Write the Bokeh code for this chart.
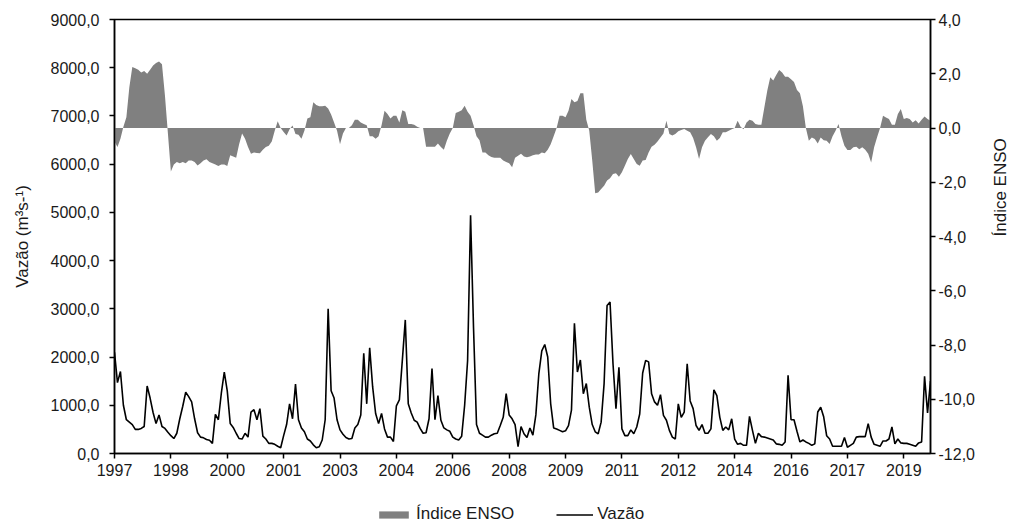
import math
from bokeh.plotting import figure
from bokeh.layouts import column
from bokeh.models import Range1d, LinearAxis, FixedTicker, Legend, LegendItem
from bokeh.embed import file_html
from bokeh.resources import INLINE

# Monthly series, Jan 1997 .. Dec 2019
enso = [
    -0.5, -0.7, -0.4, 0.05, 0.4, 1.5, 2.25, 2.2, 2.15, 2.05,
    2.1, 2.0, 2.15, 2.3, 2.4, 2.45, 2.35, 1.2, -0.2, -1.6,
    -1.35, -1.25, -1.3, -1.25, -1.3, -1.2, -1.2, -1.25, -1.38, -1.3,
    -1.2, -1.15, -1.25, -1.3, -1.35, -1.4, -1.35, -1.35, -1.4, -1.0,
    -1.05, -1.1, -0.6, -0.2, -0.4, -0.7, -0.95, -0.9, -0.92, -0.93,
    -0.8, -0.7, -0.65, -0.5, -0.1, 0.25, 0.0, -0.15, -0.28, -0.05,
    0.09, -0.22, -0.25, -0.4, -0.1, 0.35, 0.4, 0.95, 0.85, 0.8,
    0.8, 0.82, 0.72, 0.5, 0.2, -0.1, -0.6, -0.2, 0.0, 0.0,
    0.1, 0.3, 0.3, 0.2, 0.15, 0.1, -0.3, -0.3, -0.4, -0.3,
    0.1, 0.64, 0.52, 0.35, 0.45, 0.45, 0.2, 0.65, 0.6, 0.15,
    0.15, 0.12, 0.05, 0.0, 0.0, -0.69, -0.69, -0.69, -0.69, -0.57,
    -0.7, -0.8, -0.47, -0.2, 0.0, 0.55, 0.6, 0.65, 0.82, 0.6,
    0.45, 0.1, -0.3, -0.45, -0.9, -0.9, -1.0, -1.07, -1.1, -1.1,
    -1.1, -1.2, -1.25, -1.3, -1.45, -1.1, -1.02, -0.95, -1.05, -1.08,
    -1.05, -1.0, -0.98, -0.98, -0.9, -0.93, -0.8, -0.6, -0.3, 0.0,
    0.45, 0.45, 0.4, 0.64, 1.07, 0.95, 1.0, 1.28, 1.28, 0.3,
    -0.1, -1.2, -2.41, -2.38, -2.25, -2.13, -1.94, -1.85, -1.7, -1.67,
    -1.8, -1.63, -1.39, -1.14, -0.96, -1.14, -1.33, -1.39, -1.2, -1.18,
    -0.9, -0.69, -0.62, -0.5, -0.35, -0.2, 0.27, -0.22, -0.28, -0.22,
    -0.12, -0.07, -0.04, -0.1, -0.16, -0.37, -0.71, -1.14, -0.71, -0.47,
    -0.34, -0.22, -0.3, -0.47, -0.37, -0.16, -0.16, -0.1, -0.05, 0.0,
    0.27, 0.05, -0.05, 0.2, 0.3, 0.27, 0.15, 0.12, 0.12, 0.76,
    1.38, 1.87, 1.75, 1.95, 2.14, 2.05, 1.89, 1.89, 1.8, 1.7,
    1.4, 1.28, 0.8, 0.0, -0.47, -0.35, -0.41, -0.57, -0.35, -0.45,
    -0.47, -0.59, -0.3, -0.1, 0.15, -0.3, -0.65, -0.81, -0.81, -0.71,
    -0.69, -0.78, -0.71, -0.8, -0.95, -1.27, -0.71, -0.34, 0.0, 0.45,
    0.39, 0.33, 0.12, 0.12, 0.52, 0.7, 0.33, 0.37, 0.33, 0.2,
    0.29, 0.17, 0.3, 0.42, 0.33, 0.27,
]

vazao = [
    2100, 1470, 1700, 1000, 700, 650, 600, 500, 500, 520,
    560, 1400, 1150, 850, 620, 800, 560, 520, 440, 370,
    310, 420, 720, 980, 1270, 1180, 1070, 720, 430, 340,
    325, 290, 275, 210, 810, 700, 1250, 1690, 1300, 620,
    540, 420, 310, 300, 420, 340, 860, 910, 700, 930,
    360, 300, 210, 210, 190, 150, 120, 370, 600, 1030,
    720, 1440, 700, 530, 450, 300, 260, 180, 120, 140,
    280, 700, 3000, 1300, 1150, 700, 490, 400, 330, 300,
    310, 530, 600, 800, 2080, 1030, 2190, 1380, 830, 620,
    830, 510, 340, 340, 250, 990, 1110, 1930, 2770, 1030,
    840, 690, 650, 520, 420, 430, 720, 1760, 700, 1200,
    690, 530, 490, 460, 340, 300, 280, 360, 1000, 1930,
    4940, 2600, 600, 420, 380, 340, 340, 380, 410, 420,
    580, 750, 1240, 800, 720, 600, 140, 560, 410, 330,
    530, 380, 800, 1650, 2130, 2260, 2000, 1030, 530, 510,
    480, 450, 470, 580, 900, 2700, 1690, 1940, 1240, 1450,
    960, 600, 450, 410, 650, 1450, 3070, 3140, 1860, 930,
    1790, 510, 370, 370, 490, 410, 550, 820, 1670, 1930,
    1900, 1240, 1070, 1000, 1220, 790, 690, 480, 340, 300,
    1030, 750, 860, 1860, 1090, 930, 580, 480, 600, 420,
    420, 510, 1320, 1200, 750, 480, 550, 490, 720, 300,
    190, 210, 170, 170, 770, 480, 210, 420, 350, 340,
    320, 300, 280, 200, 190, 170, 240, 1620, 700, 700,
    460, 240, 280, 240, 210, 170, 200, 860, 960, 760,
    370, 300, 150, 150, 150, 150, 330, 130, 170, 210,
    340, 350, 350, 350, 620, 340, 190, 170, 150, 260,
    260, 300, 550, 200, 300, 220, 210, 210, 190, 170,
    150, 220, 240, 1600, 840, 1500,
]

months = list(range(len(vazao)))
year_tick_pos = [0, 19, 38, 57, 76, 95, 114, 133, 152, 171, 190, 209, 228, 247, 266]
year_tick_labels = ["1997", "1998", "2000", "2001", "2003", "2004", "2006", "2008",
                    "2009", "2011", "2012", "2014", "2016", "2017", "2019"]
vazao_ticks = [0, 1000, 2000, 3000, 4000, 5000, 6000, 7000, 8000, 9000]
enso_ticks = [-12, -10, -8, -6, -4, -2, 0, 2, 4]

FONT = "Liberation Sans"
TXT = "#1a1a1a"
AREA = "#808080"

p = figure(width=1022, height=500, output_backend="svg", toolbar_location=None,
           x_range=Range1d(0, len(vazao) - 1), y_range=Range1d(0, 9000),
           min_border_left=114, min_border_right=91, min_border_top=19,
           min_border_bottom=47, background_fill_color="white",
           border_fill_color="white")
p.extra_y_ranges = {"enso": Range1d(-12, 4)}

r_area = p.varea(x=months, y1=0, y2=enso, y_range_name="enso", fill_color=AREA)
r_line = p.line(months, vazao, line_color="black", line_width=1.6)

p.xgrid.visible = False
p.ygrid.visible = False
p.outline_line_color = "black"
p.outline_line_width = 1.5

right_axis = LinearAxis(y_range_name="enso")
p.add_layout(right_axis, "right")

for ax in [p.xaxis[0], p.yaxis[0], right_axis]:
    ax.axis_line_width = 1.5
    ax.axis_line_color = "black"
    ax.major_tick_line_width = 1.5
    ax.major_tick_line_color = "black"
    ax.major_tick_in = 0
    ax.major_tick_out = 5
    ax.minor_tick_line_color = None
    ax.major_label_text_font = FONT
    ax.major_label_text_font_size = "16px"
    ax.major_label_text_color = TXT
    ax.axis_label_text_font = FONT
    ax.axis_label_text_font_size = "17px"
    ax.axis_label_text_font_style = "normal"
    ax.axis_label_text_color = TXT

p.xaxis[0].ticker = FixedTicker(ticks=year_tick_pos)
p.xaxis[0].major_label_overrides = dict(zip(year_tick_pos, year_tick_labels))
p.xaxis[0].major_label_standoff = 5

p.yaxis[0].ticker = FixedTicker(ticks=vazao_ticks)
p.yaxis[0].major_label_overrides = {v: f"{v:.1f}".replace(".", ",") for v in vazao_ticks}
p.yaxis[0].major_label_standoff = 10
p.yaxis[0].axis_label = "Vazão (m³s-¹)"
p.yaxis[0].axis_label_standoff = 16

right_axis.ticker = FixedTicker(ticks=enso_ticks)
right_axis.major_label_overrides = {v: f"{v:.1f}".replace(".", ",") for v in enso_ticks}
right_axis.major_label_standoff = 3
right_axis.axis_label = "Índice ENSO"
right_axis.axis_label_standoff = 23
try:
    right_axis.axis_label_orientation = math.pi / 2
except Exception:
    pass

# legend strip below the chart (series drawn out of view, only legend shows)
lg = figure(width=1022, height=26, output_backend="svg", toolbar_location=None,
            x_axis_type=None, y_axis_type=None,
            x_range=Range1d(0, len(vazao) - 1), y_range=Range1d(-20, -19),
            min_border_left=0, min_border_right=0, min_border_top=0,
            min_border_bottom=0, outline_line_color=None,
            background_fill_color="white", border_fill_color="white")
lg.xgrid.visible = False
lg.ygrid.visible = False
k_area = lg.varea(x=months, y1=0, y2=enso, fill_color=AREA)
k_line = lg.line(months, vazao, line_color="black", line_width=1.6)
legend = Legend(items=[LegendItem(label="Índice ENSO", renderers=[k_area]),
                       LegendItem(label="Vazão", renderers=[k_line])],
                orientation="horizontal", location=(261, 2),
                border_line_color=None, background_fill_alpha=0,
                glyph_width=37, glyph_height=9, label_standoff=4, spacing=42,
                padding=0, margin=0, label_text_font=FONT,
                label_text_font_size="17px", label_text_color=TXT)
lg.add_layout(legend, "center")

layout = column(p, lg, spacing=0)
open("out.html", "w").write(file_html(layout, INLINE))
